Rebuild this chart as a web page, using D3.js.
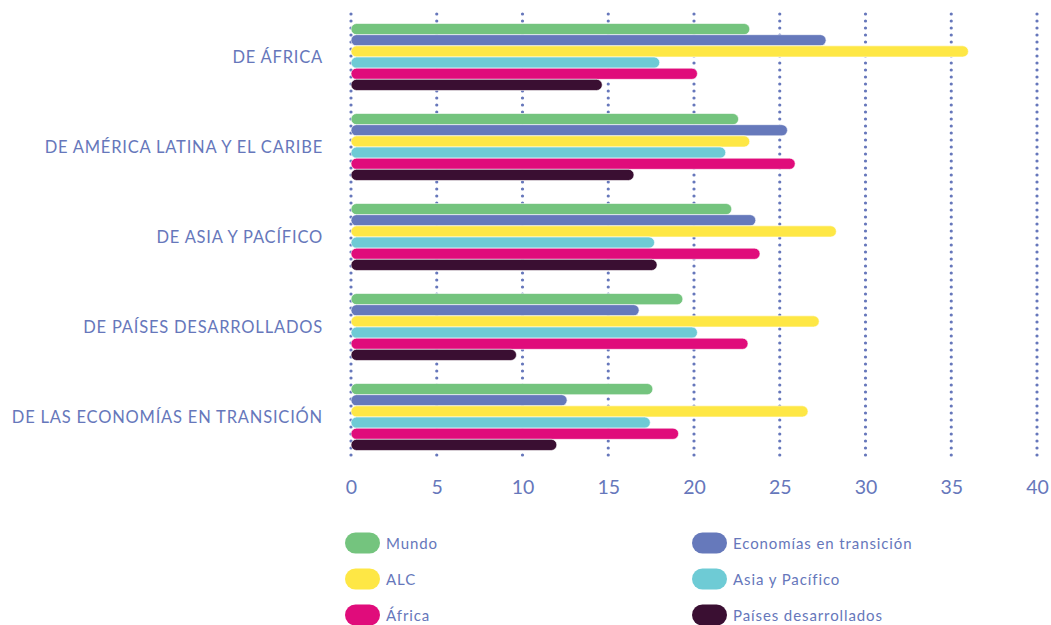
<!DOCTYPE html>
<html>
<head>
<meta charset="utf-8">
<script src="https://cdn.jsdelivr.net/npm/d3@7"></script>
<style>
  html, body { margin: 0; padding: 0; background: #ffffff; }
  svg { display: block; font-family: "Lato", "Open Sans", sans-serif; }
</style>
</head>
<body>
<svg id="chart" width="1051" height="625"></svg>
<script>
// Regions of origin (rows) and destination groups (series)
const categories = [
  "DE ÁFRICA",
  "DE AMÉRICA LATINA Y EL CARIBE",
  "DE ASIA Y PACÍFICO",
  "DE PAÍSES DESARROLLADOS",
  "DE LAS ECONOMÍAS EN TRANSICIÓN"
];
const seriesNames = ["Mundo", "Economías en transición", "ALC", "Asia y Pacífico", "África", "Países desarrollados"];
const seriesColors = ["#74c47e", "#6679bb", "#fee745", "#6ecbd5", "#e00c7b", "#3a0f32"];

// One array per series, in category order
const mundo = [23.25, 22.6, 22.2, 19.35, 17.6];
const economiasTransicion = [27.7, 25.45, 23.6, 16.8, 12.6];
const alc = [36.0, 23.25, 28.3, 27.3, 26.65];
const asiaPacifico = [18.0, 21.85, 17.7, 20.2, 17.45];
const africa = [20.2, 25.9, 23.85, 23.15, 19.1];
const paisesDesarrollados = [14.65, 16.5, 17.85, 9.65, 12.0];

const xTicks = [0, 5, 10, 15, 20, 25, 30, 35, 40];

const seriesValues = [mundo, economiasTransicion, alc, asiaPacifico, africa, paisesDesarrollados];
const textColor = "#6677bb";

const svg = d3.select("#chart");

const x = d3.scaleLinear().domain([0, 40]).range([351, 1037]);
const y = d3.scaleBand().domain(categories).range([12, 462]).paddingInner(0.256).paddingOuter(0.128);
const ySub = d3.scaleBand().domain(seriesNames).range([0, y.bandwidth()]).padding(0);

// Dotted vertical gridlines
svg.append("g")
  .selectAll("line")
  .data(xTicks)
  .join("line")
  .attr("x1", d => x(d)).attr("x2", d => x(d))
  .attr("y1", 14).attr("y2", 462)
  .attr("stroke", textColor)
  .attr("stroke-width", 3.2)
  .attr("stroke-linecap", "round")
  .attr("stroke-dasharray", "0 7");

// Grouped bars with rounded ends
const groups = svg.append("g")
  .selectAll("g")
  .data(categories)
  .join("g")
  .attr("transform", d => `translate(0,${y(d)})`);

groups.selectAll("rect")
  .data((c, ci) => seriesNames.map((s, si) => ({ series: s, value: seriesValues[si][ci], color: seriesColors[si] })))
  .join("rect")
  .attr("x", x(0))
  .attr("y", d => ySub(d.series))
  .attr("width", d => x(d.value) - x(0))
  .attr("height", ySub.bandwidth())
  .attr("rx", ySub.bandwidth() / 2)
  .attr("fill", d => d.color)
  .attr("stroke", "#ffffff")
  .attr("stroke-width", 0.6);

// Category labels
svg.append("g")
  .selectAll("text")
  .data(categories)
  .join("text")
  .attr("x", 323)
  .attr("y", d => y(d) + y.bandwidth() / 2)
  .attr("text-anchor", "end")
  .attr("dominant-baseline", "central")
  .attr("fill", textColor)
  .attr("font-size", 16.5)
  .attr("letter-spacing", 0.8)
  .text(d => d);

// X axis tick labels
const xAxis = d3.axisBottom(x).tickValues(xTicks).tickSize(0).tickPadding(0);
const axisG = svg.append("g")
  .attr("transform", "translate(0,480)")
  .call(xAxis);
axisG.select(".domain").remove();
axisG.selectAll("text")
  .attr("fill", textColor)
  .attr("font-size", 19.5)
  .attr("font-family", "Lato, 'Open Sans', sans-serif");

// Legend
const legendCols = [345, 692];
const legendRows = [543, 579, 615];
const legend = svg.append("g")
  .selectAll("g")
  .data(seriesNames)
  .join("g")
  .attr("transform", (d, i) => `translate(${legendCols[i % 2]},${legendRows[Math.floor(i / 2)]})`);

legend.append("rect")
  .attr("x", 0).attr("y", -10.5)
  .attr("width", 35).attr("height", 21)
  .attr("rx", 10.5)
  .attr("fill", (d, i) => seriesColors[i]);

legend.append("text")
  .attr("x", 41)
  .attr("y", 0)
  .attr("dominant-baseline", "central")
  .attr("fill", textColor)
  .attr("font-size", 15)
  .attr("letter-spacing", 0.9)
  .text(d => d);
</script>
</body>
</html>
